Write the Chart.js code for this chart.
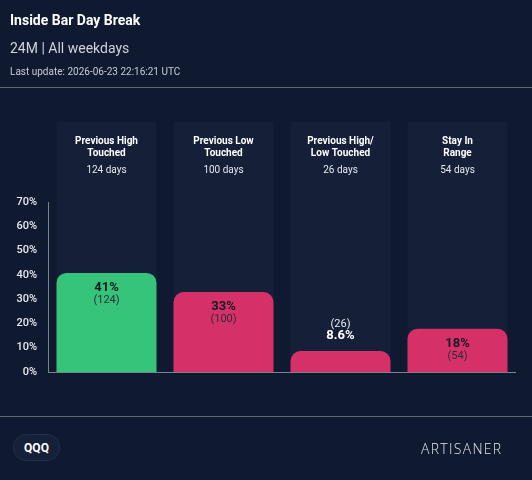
<!DOCTYPE html>
<html>
<head>
<meta charset="utf-8">
<script src="https://cdn.jsdelivr.net/npm/chart.js@4"></script>
<style>
  html,body{margin:0;padding:0;background:#0f1930;}
  body{width:532px;height:480px;position:relative;overflow:hidden;font-family:Roboto,"Noto Sans",sans-serif;}
  #c{position:absolute;left:0;top:0;}
  .t{position:absolute;left:10px;white-space:nowrap;}
  #title{top:12px;font-size:14px;font-weight:700;color:#ffffff;}
  #sub{top:40px;font-size:14px;color:#d0d3da;}
  #upd{top:66px;font-size:10px;color:#c8ccd4;}
  .sep{position:absolute;left:0;width:532px;height:1px;background:#5d6675;}
  #badge{position:absolute;left:13px;top:434px;width:47px;height:27px;border-radius:13px;background:#152039;border:1px solid #232e48;box-sizing:border-box;color:#fff;font-size:12px;font-weight:700;text-align:center;line-height:26px;}
  #logo{position:absolute;left:421px;top:439px;font-size:14px;font-weight:300;letter-spacing:1.3px;color:#e4e6ea;font-family:"Open Sans",sans-serif;}
</style>
</head>
<body>
<canvas id="c" width="532" height="480"></canvas>
<div class="t" id="title">Inside Bar Day Break</div>
<div class="t" id="sub">24M | All weekdays</div>
<div class="t" id="upd">Last update: 2026-06-23 22:16:21 UTC</div>
<div class="sep" style="top:87px"></div>
<div class="sep" style="top:416px"></div>
<div id="badge">QQQ</div>
<div id="logo">ARTISANER</div>
<script>
const categories = [["Previous High","Touched"],["Previous Low","Touched"],["Previous High/","Low Touched"],["Stay In","Range"]];
const dayCounts = [124, 100, 26, 54];
const percentValues = [40.8, 32.9, 8.6, 17.8];
const percentLabels = ["41%", "33%", "8.6%", "18%"];
const yTickValues = [0, 10, 20, 30, 40, 50, 60, 70];
const barColors = ["#35c47a", "#d63068", "#d63068", "#d63068"];

const columnPlugin = {
  id: 'columns',
  beforeDatasetsDraw(chart) {
    const ctx = chart.ctx, meta = chart.getDatasetMeta(0), area = chart.chartArea;
    ctx.save();
    meta.data.forEach((bar, i) => {
      const w = bar.width;
      ctx.fillStyle = '#151f38';
      ctx.fillRect(bar.x - w/2, 122, w, area.bottom - 122);
      ctx.textAlign = 'center'; ctx.textBaseline = 'middle';
      ctx.fillStyle = '#ffffff';
      ctx.font = 'bold 10px Roboto';
      categories[i].forEach((line, j) => ctx.fillText(line, bar.x, 141 + j*12));
      ctx.font = '10px Roboto';
      ctx.fillStyle = '#e6e8ec';
      ctx.fillText(dayCounts[i] + ' days', bar.x, 170);
    });
    ctx.restore();
  },
  afterDatasetsDraw(chart) {
    const ctx = chart.ctx, meta = chart.getDatasetMeta(0), area = chart.chartArea;
    ctx.save();
    ctx.textAlign = 'center'; ctx.textBaseline = 'middle';
    meta.data.forEach((bar, i) => {
      const h = area.bottom - bar.y;
      if (h > 35) {
        ctx.fillStyle = '#141a26';
        ctx.font = 'bold 13px Roboto';
        ctx.fillText(percentLabels[i], bar.x, bar.y + 15);
        ctx.fillStyle = '#2a2f3c';
        ctx.font = '11px Roboto';
        ctx.fillText('(' + dayCounts[i] + ')', bar.x, bar.y + 27);
      } else {
        ctx.fillStyle = '#ffffff';
        ctx.font = 'bold 13px Roboto';
        ctx.fillText(percentLabels[i], bar.x, bar.y - 15);
        ctx.fillStyle = '#e6e8ec';
        ctx.font = '11px Roboto';
        ctx.fillText('(' + dayCounts[i] + ')', bar.x, bar.y - 27);
      }
    });
    const ys = chart.scales.y;
    ctx.strokeStyle = '#7b828d'; ctx.lineWidth = 1;
    ctx.beginPath();
    ctx.moveTo(area.left + 0.5, ys.getPixelForValue(70));
    ctx.lineTo(area.left + 0.5, ys.getPixelForValue(0));
    ctx.moveTo(area.left, ys.getPixelForValue(0) + 0.5);
    ctx.lineTo(area.right, ys.getPixelForValue(0) + 0.5);
    ctx.stroke();
    ctx.restore();
  }
};

new Chart(document.getElementById('c'), {
  type: 'bar',
  data: {
    labels: categories.map(c => c.join(' ')),
    datasets: [{
      data: percentValues,
      backgroundColor: barColors,
      borderRadius: {topLeft: 10, topRight: 10, bottomLeft: 0, bottomRight: 0},
      borderSkipped: 'bottom',
      categoryPercentage: 100/117,
      barPercentage: 1
    }]
  },
  options: {
    responsive: false,
    animation: false,
    devicePixelRatio: 1,
    layout: {padding: {top: 202, bottom: 108, left: 0, right: 16}},
    plugins: {legend: {display: false}, tooltip: {enabled: false}},
    scales: {
      x: {display: false, grid: {display: false}},
      y: {
        min: 0, max: 70,
        afterBuildTicks(s) { s.ticks = yTickValues.map(v => ({value: v})); },
        afterFit(s) { s.width = 48; },
        grid: {display: false, drawTicks: false},
        border: {display: false},
        ticks: {
          padding: 11,
          color: '#e8eaee',
          font: {family: 'Roboto', size: 11, weight: '500'},
          callback: v => v + '%'
        }
      }
    }
  },
  plugins: [columnPlugin]
});
</script>
</body>
</html>
